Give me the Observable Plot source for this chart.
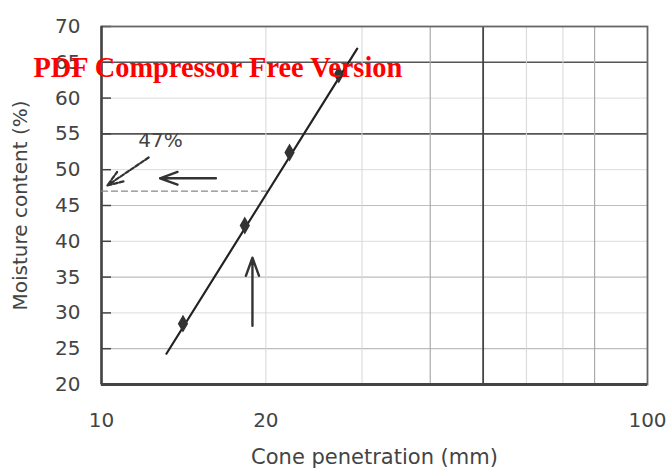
<!DOCTYPE html>
<html>
<head>
<meta charset="utf-8">
<script src="https://cdn.jsdelivr.net/npm/d3@7"></script>
<script src="https://cdn.jsdelivr.net/npm/@observablehq/plot@0.6"></script>
<style>
  html, body { margin: 0; padding: 0; background: #fff; overflow: hidden; }
  #chart { position: relative; width: 669px; height: 470px; }
</style>
</head>
<body>
<div id="chart"></div>
<script>
// ---- data ----
const xTickValues = [10, 20, 100];
const yTickValues = [20, 25, 30, 35, 40, 45, 50, 55, 60, 65, 70];

const penetration = [14.1, 18.3, 22.1, 27.2];      // mm
const moisture    = [28.5, 42.2, 52.4, 63.3];      // %

const fitPenetration = [13.15, 29.4];
const fitMoisture    = [24.3, 66.9];

const liquidLimit = 47;          // %
const liquidLimitPen = 20.2;     // mm, where fitted line crosses 47 %

// horizontal gridlines by weight
const hGridDark  = [55, 65];
const hGridMid   = [25, 35, 45];
const hGridLight = [30, 40, 50, 60];
// vertical gridlines by weight
const vGridDark  = [50];
const vGridMid   = [40, 80];
const vGridLight = [20, 30, 60, 70];

// annotation arrows: [x1, y1, x2, y2]
const arrowHoriz = [{x1: 16.2, y1: 48.8, x2: 12.8, y2: 48.8}];
const arrowDiag  = [{x1: 12.2, y1: 51.7, x2: 10.25, y2: 47.8}];
const arrowVert  = [{x1: 18.9, y1: 28.2, x2: 18.9, y2: 37.7}];
const labelLL    = [{x: 12.83, y: 54.1, text: "47%"}];

const xTitle = "Cone penetration (mm)";
const yTitle = "Moisture content (%)";
const watermark = "PDF Compressor Free Version";

// ---- build tables ----
const pts = penetration.map((p, i) => ({p, m: moisture[i]}));
const fit = fitPenetration.map((p, i) => ({p, m: fitMoisture[i]}));
const dashLL = [{p: 10, m: liquidLimit}, {p: liquidLimitPen, m: liquidLimit}];

const W = 669, H = 470;
const mL = 101, mR = 22, mT = 26, mB = 86;
const frameW = W - mL - mR;

const chart = Plot.plot({
  width: W,
  height: H,
  marginLeft: mL,
  marginRight: mR,
  marginTop: mT,
  marginBottom: mB,
  style: {fontFamily: "DejaVu Sans", background: "#fff", color: "#444"},
  x: {type: "log", domain: [10, 100]},
  y: {domain: [20, 70]},
  marks: [
    // gridlines
    Plot.ruleY(hGridLight, {stroke: "#dcdcdc", strokeWidth: 1}),
    Plot.ruleY(hGridMid, {stroke: "#bdbdbd", strokeWidth: 1.2}),
    Plot.ruleY(hGridDark, {stroke: "#555", strokeWidth: 1.6}),
    Plot.ruleX(vGridLight, {stroke: "#d6d6d6", strokeWidth: 1}),
    Plot.ruleX(vGridMid, {stroke: "#aaa", strokeWidth: 1.2}),
    Plot.ruleX(vGridDark, {stroke: "#444", strokeWidth: 1.8}),
    // inward y ticks
    Plot.tickY(yTickValues, {y: d => d, insetRight: frameW - 10, stroke: "#444", strokeWidth: 1.5}),
    // frame
    Plot.frame({stroke: "#666", strokeWidth: 1.8}),
    Plot.ruleX([10], {stroke: "#444", strokeWidth: 2.5}),
    Plot.ruleY([20], {stroke: "#444", strokeWidth: 3}),
    // axes labels
    Plot.axisY({ticks: yTickValues, tickSize: 0, tickPadding: 21, fontSize: 20, label: null, fill: "#444"}),
    Plot.axisX({ticks: xTickValues, tickSize: 0, tickPadding: 28, fontSize: 20, label: null, fill: "#444", tickFormat: d => String(d)}),
    Plot.text([xTitle], {frameAnchor: "bottom", dy: 65, lineAnchor: "top", fontSize: 21, fill: "#444"}),
    Plot.text([yTitle], {frameAnchor: "left", dx: -89, rotate: -90, textAnchor: "middle", lineAnchor: "top", fontSize: 20, fill: "#444"}),
    // 47% dashed line
    Plot.line(dashLL, {x: "p", y: "m", stroke: "#888", strokeWidth: 1.3, strokeDasharray: "6,4"}),
    // fitted line and points
    Plot.line(fit, {x: "p", y: "m", stroke: "#222", strokeWidth: 2.2}),
    Plot.dot(pts, {x: "p", y: "m", r: 4.5, fill: "#333", stroke: "#333", symbol: "diamond"}),
    // annotations
    Plot.arrow(arrowHoriz, {x1: "x1", y1: "y1", x2: "x2", y2: "y2", stroke: "#333", strokeWidth: 2.4, headLength: 12, headAngle: 40}),
    Plot.arrow(arrowDiag, {x1: "x1", y1: "y1", x2: "x2", y2: "y2", stroke: "#333", strokeWidth: 2.2, strokeDasharray: "4,2", headLength: 12, headAngle: 40}),
    Plot.arrow(arrowVert, {x1: "x1", y1: "y1", x2: "x2", y2: "y2", stroke: "#333", strokeWidth: 2.4, headLength: 12, headAngle: 40}),
    Plot.text(labelLL, {x: "x", y: "y", text: "text", fontSize: 20, fill: "#444"}),
    // watermark
    Plot.text([watermark], {frameAnchor: "top-left", dx: 33 - mL, dy: 76 - mT, textAnchor: "start", lineAnchor: "bottom",
      fontFamily: "Liberation Serif", fontWeight: "bold", fontSize: 28.4, fill: "#ff0000"})
  ]
});
document.getElementById("chart").appendChild(chart);
</script>
</body>
</html>
